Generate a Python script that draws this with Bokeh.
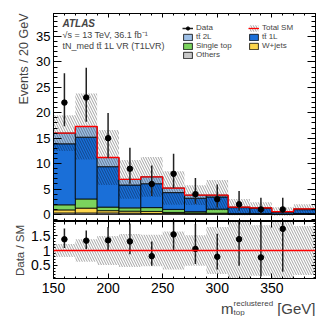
import numpy as np
from bokeh.plotting import figure
from bokeh.layouts import column
from bokeh.models import (FixedTicker, LinearAxis, Title, Label, Legend, LegendItem, Span)
from bokeh.embed import file_html
from bokeh.resources import INLINE

# ---------------- data ----------------
bin_edges = [150, 170, 190, 210, 230, 250, 270, 290, 310, 330, 350, 370, 390]
others     = [0.30, 0.30, 0.30, 0.25, 0.20, 0.20, 0.15, 0.15, 0.10, 0.10, 0.05, 0.10]
wjets      = [0.60, 0.95, 0.45, 0.40, 0.40, 0.20, 0.15, 0.10, 0.05, 0.05, 0.02, 0.05]
single_top = [1.00, 1.80, 0.70, 0.65, 0.75, 0.60, 0.25, 0.80, 0.05, 0.05, 0.03, 0.05]
ttbar_1l   = [12.0, 12.15, 7.95, 4.50, 4.70, 3.30, 2.65, 2.40, 1.15, 1.00, 0.35, 0.75]
ttbar_2l   = [2.10, 2.10, 1.80, 1.10, 1.35, 0.90, 0.60, 0.35, 0.10, 0.10, 0.13, 0.15]
sm_unc     = [3.5, 6.5, 5.4, 3.8, 3.9, 3.3, 1.95, 3.0, 1.6, 1.1, 0.85, 0.9]

data_x      = [160, 180, 200, 220, 240, 260, 280, 300, 320, 340, 360]
data_counts = [22, 23, 15, 9, 6, 8, 4, 3, 2, 1, 1]
data_err_lo = [4.65, 4.76, 3.83, 2.94, 2.38, 2.77, 1.91, 1.63, 1.29, 0.83, 0.83]
data_err_hi = [5.76, 5.87, 4.96, 4.11, 3.62, 3.95, 3.16, 2.92, 2.64, 2.30, 2.30]

x_ticks = [150, 200, 250, 300, 350]
x_minor = list(range(150, 391, 10))
y_ticks_main = [0, 5, 10, 15, 20, 25, 30, 35]
y_minor_main = list(range(-1, 40))
y_ticks_ratio = [0.5, 1.0, 1.5]
y_minor_ratio = [round(0.1 * i, 1) for i in range(0, 20)]

# colours
c_others = "#c8c8c8"
c_wjets = "#fbd54c"
c_single = "#7bd35d"
c_tt1l = "#1a6fd8"
c_tt2l = "#9dbfe6"

FONT = "Liberation Sans"

left = np.array(bin_edges[:-1], dtype=float)
right = np.array(bin_edges[1:], dtype=float)
comp = [others, wjets, single_top, ttbar_1l, ttbar_2l]
cols = [c_others, c_wjets, c_single, c_tt1l, c_tt2l]
cum = np.zeros(len(left))
bottoms, tops = [], []
for arr in comp:
    b = cum.copy()
    cum = cum + np.array(arr)
    bottoms.append(b)
    tops.append(cum.copy())
total = cum
unc = np.array(sm_unc)

FW = 262
LB = 53
RB = 9

def style_axis(ax, ticks, minor, tick_in, minor_in, labels=True, fs="12px", standoff=3):
    ax.ticker = FixedTicker(ticks=ticks, minor_ticks=minor)
    ax.major_tick_in = tick_in
    ax.major_tick_out = 0
    ax.minor_tick_in = minor_in
    ax.minor_tick_out = 0
    ax.axis_line_color = "black"
    ax.major_tick_line_color = "black"
    ax.minor_tick_line_color = "black"
    if labels:
        ax.major_label_text_font = FONT
        ax.major_label_text_font_size = fs
        ax.major_label_text_color = "black"
        ax.major_label_standoff = standoff
    else:
        ax.major_label_text_font_size = "0px"
        ax.major_label_text_alpha = 0
        ax.major_label_text_color = None
        ax.major_label_standoff = 0

# ---------------- main panel ----------------
p = figure(frame_width=FW, frame_height=208, x_range=(150, 390), y_range=(-1.38, 39.52),
           output_backend="svg", toolbar_location=None,
           min_border_left=LB, min_border_right=RB, min_border_top=13, min_border_bottom=0)
p.grid.visible = False
p.outline_line_color = "black"

renderers = []
for b, t, c in zip(bottoms, tops, cols):
    r = p.quad(left=left, right=right, bottom=b, top=t, fill_color=c, line_color="black", line_width=0.8)
    renderers.append(r)
r_oth, r_wj, r_st, r_tt1, r_tt2 = renderers

r_hatch = p.quad(left=left, right=right, bottom=total - unc, top=total + unc, fill_alpha=0,
                 line_color=None, hatch_pattern="\\", hatch_color="black", hatch_alpha=0.45,
                 hatch_scale=5, hatch_weight=0.8)
r_red = p.step(x=bin_edges, y=list(total) + [total[-1]], mode="after", line_color="red", line_width=1.3)

dc = np.array(data_counts, dtype=float)
r_err = p.segment(x0=data_x, y0=dc - np.array(data_err_lo), x1=data_x, y1=dc + np.array(data_err_hi),
                  line_color="#222222", line_width=1.5)
r_pts = p.scatter(x=data_x, y=data_counts, size=5.5, color="black")

style_axis(p.yaxis[0], y_ticks_main, y_minor_main, 8, 4, True, "13px", 3)
style_axis(p.xaxis[0], x_ticks, x_minor, 6, 3, False)
ax_top = LinearAxis()
style_axis(ax_top, x_ticks, x_minor, 4, 2, False)
p.add_layout(ax_top, "above")
ax_right = LinearAxis()
style_axis(ax_right, y_ticks_main, y_minor_main, 8, 4, False)
p.add_layout(ax_right, "right")

p.add_layout(Title(text="Events / 20 GeV", align="right", text_font=FONT, text_font_size="12.5px",
                   text_font_style="normal", standoff=6), "left")

p.add_layout(Label(x=158.2, y=36.4, text="ATLAS", text_font=FONT, text_font_size="10px",
                   text_font_style="bold italic"))
p.add_layout(Label(x=158.2, y=34.3, text="\u221as = 13 TeV, 36.1 fb\u207b\u00b9", text_font=FONT,
                   text_font_size="9px"))
p.add_layout(Label(x=158.2, y=32.2, text="tN_med tt\u0304 1L VR (T1LVR)", text_font=FONT,
                   text_font_size="9px"))

legend = Legend(items=[
    LegendItem(label="Data", renderers=[r_err, r_pts]),
    LegendItem(label="tt\u0304 2L", renderers=[r_tt2]),
    LegendItem(label="Single top", renderers=[r_st]),
    LegendItem(label="Others", renderers=[r_oth]),
    LegendItem(label="Total SM", renderers=[r_hatch, r_red]),
    LegendItem(label="tt\u0304 1L", renderers=[r_tt1]),
    LegendItem(label="W+jets", renderers=[r_wj]),
], ncols=2, location=(129, 162), label_text_font=FONT, label_text_font_size="8px",
    glyph_width=11, glyph_height=8, label_height=8, label_width=52, spacing=0, label_standoff=3,
    padding=0, margin=0, border_line_color=None, background_fill_alpha=0)
p.add_layout(legend)

# ---------------- ratio panel ----------------
p2 = figure(frame_width=FW, frame_height=58, x_range=p.x_range, y_range=(0.03, 1.97),
            output_backend="svg", toolbar_location=None,
            min_border_left=LB, min_border_right=RB, min_border_top=0, min_border_bottom=0)
p2.grid.visible = False
p2.outline_line_color = "black"

rel = unc / total
p2.quad(left=left, right=right, bottom=1 - rel, top=1 + rel, fill_alpha=0, line_color=None,
        hatch_pattern="\\", hatch_color="black", hatch_alpha=0.45, hatch_scale=5, hatch_weight=0.8)
p2.add_layout(Span(location=1, dimension="width", line_color="red", line_width=1.3))
ratio = dc / total[:len(dc)]
p2.segment(x0=data_x, y0=(dc - np.array(data_err_lo)) / total[:len(dc)], x1=data_x,
           y1=(dc + np.array(data_err_hi)) / total[:len(dc)], line_color="#222222", line_width=1.5)
p2.scatter(x=data_x, y=ratio, size=5.5, color="black")

style_axis(p2.yaxis[0], y_ticks_ratio, y_minor_ratio, 4, 2, True, "14px", 3)
style_axis(p2.xaxis[0], x_ticks, x_minor, 6, 3, False)
ax_top2 = LinearAxis()
style_axis(ax_top2, x_ticks, x_minor, 6, 3, False)
p2.add_layout(ax_top2, "above")
ax_right2 = LinearAxis()
style_axis(ax_right2, y_ticks_ratio, y_minor_ratio, 4, 2, False)
p2.add_layout(ax_right2, "right")

p2.add_layout(Title(text="Data / SM", align="center", text_font=FONT, text_font_size="11.5px",
                    text_font_style="normal", standoff=6), "left")

# ---------------- x tick labels + x-axis title strip ----------------
p3 = figure(frame_width=FW, frame_height=22, x_range=p.x_range, y_range=(0, 22),
            output_backend="svg", toolbar_location=None, x_axis_location="above", y_axis_location=None,
            min_border_left=LB, min_border_right=RB, min_border_top=0, min_border_bottom=0)
p3.grid.visible = False
p3.outline_line_color = None
xa = p3.xaxis[0]
xa.ticker = FixedTicker(ticks=x_ticks)
xa.axis_line_color = None
xa.major_tick_in = 0
xa.major_tick_out = 0
xa.minor_tick_in = 0
xa.minor_tick_out = 0
xa.major_label_text_font = FONT
xa.major_label_text_font_size = "14px"
xa.major_label_text_color = "black"
xa.major_label_standoff = 2

p3.add_layout(Label(x=303.4, y=8, text="m", text_font=FONT, text_font_size="15px",
                    text_baseline="alphabetic"))
p3.add_layout(Label(x=314.9, y=13, text="reclustered", text_font=FONT, text_font_size="8px",
                    text_baseline="alphabetic"))
p3.add_layout(Label(x=314.9, y=4, text="top", text_font=FONT, text_font_size="8px",
                    text_baseline="alphabetic"))
p3.add_layout(Label(x=390, y=8, text="[GeV]", text_font=FONT, text_font_size="15px",
                    text_align="right", text_baseline="alphabetic"))

layout = column(p, p2, p3, spacing=0)
open("out.html", "w").write(file_html(layout, INLINE))
